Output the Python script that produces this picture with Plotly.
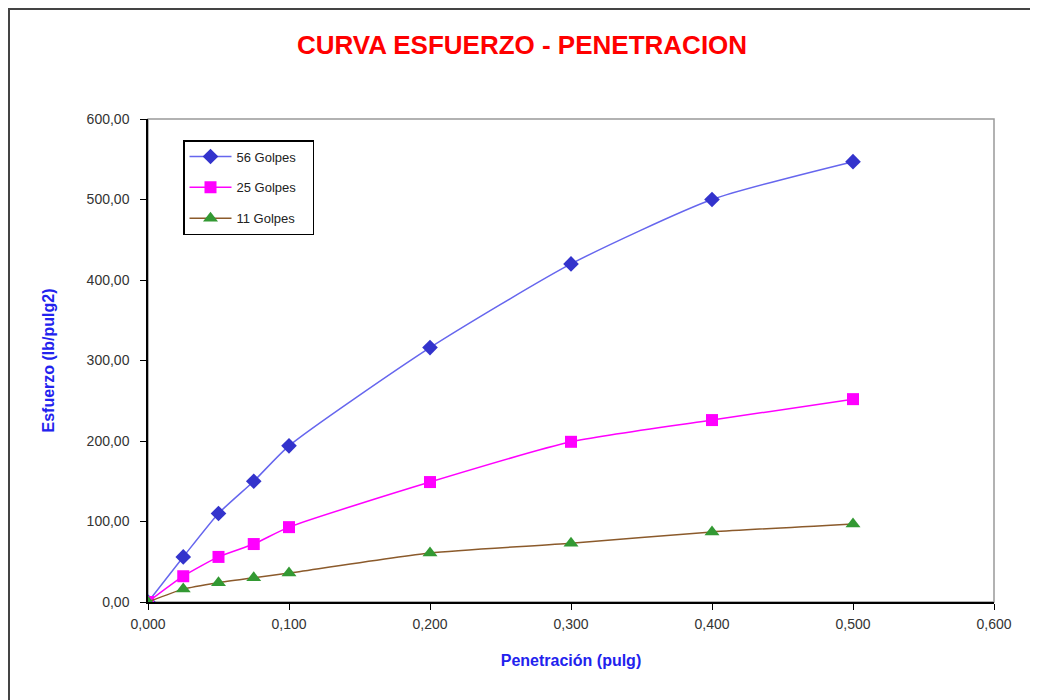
import plotly.graph_objects as go

# penetración (pulg)
penetracion = [0.0, 0.025, 0.05, 0.075, 0.1, 0.2, 0.3, 0.4, 0.5]

# esfuerzo (lb/pulg2) por número de golpes
golpes_56 = [0.0, 56, 110, 150, 194, 316, 420, 500, 547]
golpes_25 = [0.0, 32, 56, 72, 93, 149, 199, 226, 252]
golpes_11 = [0.0, 16, 24, 30, 36, 61, 73, 87, 97]

series = [
    ('56 Golpes', golpes_56, '#6666EE', '#3333CC', 'diamond', 12),
    ('25 Golpes', golpes_25, '#FF00FF', '#FF00FF', 'square', 12),
    ('11 Golpes', golpes_11, '#8B5A2B', '#339933', 'triangle-up', 13),
]

fig = go.Figure()
for i, (name, vals, line_color, marker_color, symbol, size) in enumerate(series):
    fig.add_trace(go.Scatter(
        x=penetracion, y=vals, name=name + '\u00a0' * 3, mode='lines+markers',
        line=dict(color=line_color, width=1.5, shape='spline', smoothing=0.6),
        marker=dict(color=marker_color, symbol=symbol, size=size),
        legendgroup=str(i),
    ))

# the page adds an 8px body margin, so the figure origin sits at (8, 8)
L, R, T, B = 140, 52, 111, 106
W, H = 1038, 700
pw, ph = W - L - R, H - T - B

fig.update_layout(
    width=W, height=H,
    margin=dict(l=L, r=R, t=T, b=B),
    paper_bgcolor='white', plot_bgcolor='white',
    separators=',.',
    font=dict(family='Liberation Sans, Arial, sans-serif', size=12, color='#333333'),
    title=dict(text='<b>CURVA ESFUERZO - PENETRACION</b>', x=514 / W, xref='container',
               xanchor='center', y=1 - 37 / H, yanchor='middle',
               font=dict(size=26, color='#FF0000')),
    showlegend=True,
    legend=dict(x=(175 - L) / pw, y=(H - B - 132) / ph, xanchor='left', yanchor='top',
                bgcolor='white', bordercolor='black', borderwidth=1.5,
                font=dict(size=13, color='#222222'), tracegroupgap=11,
                traceorder='grouped', itemwidth=42),
    shapes=[
        dict(type='rect', xref='paper', yref='paper', x0=0, x1=1, y0=0, y1=1,
             line=dict(color='#999999', width=1.5), layer='below'),
        dict(type='rect', xref='paper', yref='paper',
             x0=(1 - L) / pw, x1=(W + 20 - L) / pw,
             y0=(H - B - H - 20) / ph, y1=(H - B - 1) / ph,
             line=dict(color='#444444', width=2), layer='below'),
    ],
)

fig.update_xaxes(
    range=[0, 0.6], dtick=0.1, tickformat='.3f', showgrid=False, zeroline=False,
    showline=True, linecolor='black', linewidth=1.5, ticks='outside', ticklen=6,
    tickcolor='black', tickfont=dict(size=14, color='#333333'), ticklabelstandoff=2,
    title=dict(text='<b>Penetración (pulg)</b>', font=dict(size=16, color='#2222EE'), standoff=24),
)
fig.update_yaxes(
    range=[0, 600], dtick=100, tickformat='.2f', showgrid=False, zeroline=False,
    showline=True, linecolor='black', linewidth=1.5, ticks='outside', ticklen=6,
    tickcolor='black', tickfont=dict(size=14, color='#333333'), ticklabelstandoff=8,
    title=dict(text='<b>Esfuerzo (lb/pulg2)</b>', font=dict(size=16, color='#2222EE'), standoff=28),
)

fig.write_html('out.html')
